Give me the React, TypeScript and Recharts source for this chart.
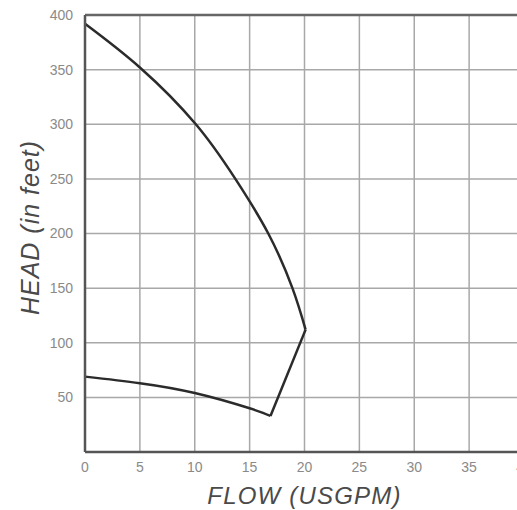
import React from "react";
import { LineChart, Line, XAxis, YAxis, CartesianGrid, ReferenceLine, Label } from "recharts";

const xTicks = [0, 5, 10, 15, 20, 25, 30, 35, 40];
const yTicks = [50, 100, 150, 200, 250, 300, 350, 400];

const upperCurve = [
  { x: 0, y: 392 },
  { x: 5, y: 352 },
  { x: 10.1, y: 300 },
  { x: 13.7, y: 250 },
  { x: 16.7, y: 200 },
  { x: 18.9, y: 150 },
  { x: 20.1, y: 112 },
];

const tipSegment = [
  { x: 20.1, y: 112 },
  { x: 16.9, y: 33 },
];

const lowerCurve = [
  { x: 0, y: 69 },
  { x: 5, y: 63 },
  { x: 10, y: 54 },
  { x: 15, y: 40 },
  { x: 16.9, y: 33 },
];

const xTitle = "FLOW (USGPM)";
const yTitle = "HEAD (in feet)";

const FONT = "'Liberation Sans', Arial, sans-serif";
const curveColor = "#2b2b2b";

const YTitle = (props: any) => {
  const vb = props.viewBox || {};
  const cx = (vb.x || 0) + 30;
  const cy = (vb.y || 0) + (vb.height || 0) / 2 - 6;
  return (
    <text
      x={cx}
      y={cy}
      transform={`rotate(-90 ${cx} ${cy})`}
      textAnchor="middle"
      dominantBaseline="central"
      fontFamily={FONT}
      fontStyle="italic"
      fontSize={25}
      letterSpacing={1}
      fill="#4a4a4a"
    >
      {yTitle}
    </text>
  );
};

const XTitle = (props: any) => {
  const vb = props.viewBox || {};
  const cx = (vb.x || 0) + (vb.width || 0) / 2;
  const cy = (vb.y || 0) + 52;
  return (
    <text
      x={cx}
      y={cy}
      textAnchor="middle"
      fontFamily={FONT}
      fontStyle="italic"
      fontSize={24}
      letterSpacing={1.2}
      fill="#4a4a4a"
    >
      {xTitle}
    </text>
  );
};

export default function App() {
  return (
    <div
      style={{
        position: "fixed",
        left: 0,
        top: 0,
        width: 517,
        height: 510,
        overflow: "hidden",
        background: "#ffffff",
      }}
    >
      <LineChart
        width={534}
        height={510}
        margin={{ top: 15, right: 10, bottom: 0, left: 0 }}
      >
        <CartesianGrid stroke="#a8a8a8" strokeWidth={1.5} />
        <XAxis
          type="number"
          dataKey="x"
          domain={[0, 40]}
          ticks={xTicks}
          interval={0}
          height={58}
          axisLine={{ stroke: "#555555", strokeWidth: 2.5 }}
          tickLine={false}
          tickSize={4}
          tickMargin={6}
          tick={{ fill: "#8a8a8a", fontSize: 14, fontFamily: FONT }}
        >
          <Label content={<XTitle />} />
        </XAxis>
        <YAxis
          type="number"
          domain={[0, 400]}
          ticks={yTicks}
          interval={0}
          width={85}
          axisLine={{ stroke: "#555555", strokeWidth: 2.5 }}
          tickLine={false}
          tickSize={6}
          tickMargin={6}
          tick={{ fill: "#8a8a8a", fontSize: 14, fontFamily: FONT }}
        >
          <Label content={<YTitle />} />
        </YAxis>
        <ReferenceLine y={400} stroke="#666666" strokeWidth={2.5} ifOverflow="visible" />
        <Line
          data={upperCurve}
          dataKey="y"
          type="natural"
          stroke={curveColor}
          strokeWidth={2.5}
          dot={false}
          activeDot={false}
          isAnimationActive={false}
        />
        <Line
          data={tipSegment}
          dataKey="y"
          type="linear"
          stroke={curveColor}
          strokeWidth={2.5}
          dot={false}
          activeDot={false}
          isAnimationActive={false}
        />
        <Line
          data={lowerCurve}
          dataKey="y"
          type="natural"
          stroke={curveColor}
          strokeWidth={2.5}
          dot={false}
          activeDot={false}
          isAnimationActive={false}
        />
      </LineChart>
    </div>
  );
}
